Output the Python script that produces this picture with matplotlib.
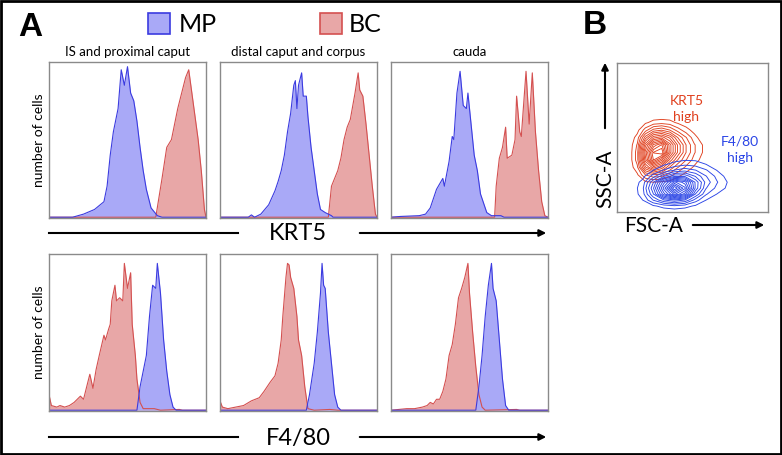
import numpy as np
import matplotlib
matplotlib.use("Agg")
import matplotlib.pyplot as plt
from matplotlib.patches import Rectangle

plt.rcParams['font.family'] = ['Lato', 'DejaVu Sans']

W, H = 782, 455

# panel titles and markers
regions = ['IS and proximal caput', 'distal caput and corpus', 'cauda']
markers = ['KRT5', 'F4/80']

# histograms: (intensity, relative count)
krt5_is_mp = [(0, 0), (0.15, 0.0), (0.22, 0.02), (0.29, 0.05), (0.35, 0.1), (0.37, 0.2), (0.39, 0.4),
              (0.41, 0.55), (0.44, 0.7), (0.46, 0.95), (0.48, 0.85), (0.50, 0.97), (0.52, 0.8),
              (0.54, 0.75), (0.56, 0.62), (0.58, 0.45), (0.60, 0.3), (0.62, 0.18), (0.65, 0.06),
              (0.69, 0.01), (0.72, 0), (1, 0)]
krt5_is_bc = [(0, 0), (0.68, 0), (0.72, 0.25), (0.75, 0.45), (0.78, 0.5), (0.80, 0.6), (0.82, 0.7),
              (0.85, 0.82), (0.87, 0.9), (0.89, 0.95), (0.91, 0.8), (0.93, 0.65), (0.95, 0.5),
              (0.97, 0.3), (0.99, 0.05), (1, 0)]
krt5_dc_mp = [(0, 0), (0.18, 0), (0.20, 0.015), (0.22, 0.0), (0.26, 0.02), (0.31, 0.08), (0.35, 0.17),
              (0.37, 0.23), (0.39, 0.3), (0.41, 0.4), (0.43, 0.55), (0.45, 0.67), (0.47, 0.85),
              (0.48, 0.88), (0.49, 0.7), (0.50, 0.85), (0.52, 0.93), (0.53, 0.78), (0.55, 0.78),
              (0.56, 0.65), (0.58, 0.45), (0.60, 0.3), (0.62, 0.15), (0.64, 0.05), (0.67, 0.03),
              (0.71, 0.01), (0.72, 0), (1, 0)]
krt5_dc_bc = [(0, 0), (0.69, 0), (0.71, 0.2), (0.73, 0.25), (0.75, 0.3), (0.77, 0.38), (0.79, 0.5),
              (0.81, 0.58), (0.83, 0.63), (0.86, 0.8), (0.88, 0.93), (0.89, 0.82), (0.91, 0.78),
              (0.93, 0.6), (0.95, 0.4), (0.97, 0.2), (0.99, 0.02), (1, 0)]
krt5_ca_mp = [(0, 0), (0.06, 0.005), (0.18, 0.01), (0.22, 0.02), (0.25, 0.06), (0.29, 0.18),
              (0.33, 0.25), (0.34, 0.2), (0.37, 0.36), (0.39, 0.52), (0.40, 0.5), (0.42, 0.8),
              (0.44, 0.94), (0.46, 0.72), (0.48, 0.7), (0.49, 0.8), (0.51, 0.6), (0.53, 0.4),
              (0.55, 0.3), (0.57, 0.15), (0.61, 0.03), (0.64, 0.01), (0.70, 0.01), (0.72, 0), (1, 0)]
krt5_ca_bc = [(0, 0), (0.66, 0), (0.67, 0.2), (0.69, 0.38), (0.71, 0.45), (0.73, 0.58), (0.74, 0.38),
              (0.77, 0.4), (0.79, 0.5), (0.80, 0.78), (0.82, 0.55), (0.83, 0.52), (0.85, 0.8),
              (0.86, 0.94), (0.88, 0.6), (0.90, 0.93), (0.92, 0.55), (0.94, 0.3), (0.96, 0.1),
              (0.98, 0.01), (1, 0)]
f480_is_mp = [(0, 0), (0.56, 0), (0.58, 0.15), (0.60, 0.25), (0.62, 0.35), (0.64, 0.6), (0.66, 0.8),
              (0.68, 0.78), (0.69, 0.94), (0.71, 0.75), (0.73, 0.45), (0.75, 0.25), (0.77, 0.1),
              (0.79, 0.02), (0.81, 0), (1, 0)]
f480_is_bc = [(0, 0.1), (0.015, 0.03), (0.05, 0.02), (0.07, 0.03), (0.10, 0.02), (0.13, 0.03),
              (0.16, 0.05), (0.20, 0.09), (0.22, 0.07), (0.24, 0.15), (0.26, 0.23), (0.28, 0.14),
              (0.30, 0.26), (0.32, 0.35), (0.35, 0.48), (0.36, 0.45), (0.38, 0.52), (0.39, 0.55),
              (0.40, 0.7), (0.42, 0.8), (0.43, 0.7), (0.45, 0.72), (0.47, 0.7), (0.48, 0.94),
              (0.50, 0.78), (0.52, 0.88), (0.53, 0.55), (0.55, 0.35), (0.56, 0.2), (0.58, 0.05),
              (0.60, 0.01), (0.67, 0.01), (0.71, 0), (0.83, 0.005), (0.85, 0), (1, 0)]
f480_dc_mp = [(0, 0), (0.55, 0), (0.57, 0.1), (0.60, 0.3), (0.62, 0.5), (0.64, 0.75), (0.65, 0.94),
              (0.66, 0.8), (0.67, 0.78), (0.69, 0.5), (0.71, 0.3), (0.73, 0.1), (0.75, 0.02),
              (0.77, 0), (1, 0)]
f480_dc_bc = [(0, 0.06), (0.015, 0.02), (0.05, 0.01), (0.10, 0.02), (0.15, 0.03), (0.20, 0.06),
              (0.25, 0.08), (0.28, 0.12), (0.32, 0.18), (0.35, 0.22), (0.37, 0.3), (0.39, 0.45),
              (0.40, 0.6), (0.42, 0.85), (0.43, 0.94), (0.44, 0.93), (0.45, 0.85), (0.47, 0.78),
              (0.49, 0.6), (0.50, 0.45), (0.52, 0.35), (0.54, 0.15), (0.56, 0.01), (0.60, 0),
              (0.70, 0.005), (0.75, 0), (1, 0)]
f480_ca_mp = [(0, 0), (0.54, 0), (0.56, 0.15), (0.58, 0.35), (0.60, 0.6), (0.62, 0.8), (0.64, 0.94),
              (0.65, 0.78), (0.67, 0.7), (0.69, 0.45), (0.71, 0.2), (0.73, 0.03), (0.75, 0), (1, 0)]
f480_ca_bc = [(0, 0), (0.05, 0.005), (0.10, 0.01), (0.15, 0.01), (0.20, 0.02), (0.23, 0.03),
              (0.25, 0.05), (0.27, 0.04), (0.29, 0.07), (0.31, 0.07), (0.33, 0.12), (0.35, 0.2),
              (0.37, 0.35), (0.39, 0.42), (0.41, 0.55), (0.43, 0.72), (0.45, 0.78), (0.47, 0.85),
              (0.49, 0.94), (0.50, 0.75), (0.52, 0.5), (0.54, 0.28), (0.56, 0.1), (0.58, 0.02),
              (0.60, 0), (0.80, 0.005), (0.82, 0), (1, 0)]

# FSC/SSC density grids (rows bottom -> top)
krt5_x = [0.08, 0.134, 0.188, 0.242, 0.296, 0.35, 0.404, 0.458, 0.512, 0.566, 0.62]
krt5_y = [0.15, 0.20, 0.25, 0.30, 0.35, 0.40, 0.45, 0.50, 0.55, 0.60, 0.65]
krt5_density = [
    [0, 0, 0, 0, 0, 0, 0, 0, 0, 0, 0],
    [0, 0, 0.3, 0.4, 0.3, 0.2, 0, 0, 0, 0, 0],
    [0, 0.3, 1.5, 2, 1.8, 1.2, 0.6, 0.2, 0, 0, 0],
    [0, 0.8, 3.5, 5, 4, 2.5, 1.5, 0.8, 0.3, 0, 0],
    [0, 1.2, 5, 8, 6.5, 4, 2.5, 1.5, 0.7, 0.2, 0],
    [0, 1.2, 5.5, 8.5, 9, 5.5, 3.5, 2, 1, 0.4, 0],
    [0, 1, 4.5, 7, 8, 5.5, 3.5, 2, 1, 0.4, 0],
    [0, 0.6, 2.8, 4.5, 5, 4, 2.5, 1.5, 0.6, 0.1, 0],
    [0, 0.2, 1.2, 2.2, 2.5, 2, 1.2, 0.6, 0.2, 0, 0],
    [0, 0, 0.3, 0.6, 0.7, 0.6, 0.3, 0.1, 0, 0, 0],
    [0, 0, 0, 0, 0, 0, 0, 0, 0, 0, 0],
]
f480_x = [0.10, 0.17, 0.24, 0.31, 0.38, 0.45, 0.52, 0.59, 0.66, 0.73, 0.80]
f480_y = [0.00, 0.04, 0.08, 0.12, 0.16, 0.20, 0.24, 0.28, 0.32, 0.36, 0.40]
f480_density = [
    [0, 0, 0, 0, 0, 0, 0, 0, 0, 0, 0],
    [0, 0, 0.3, 0.6, 0.8, 0.6, 0.3, 0, 0, 0, 0],
    [0, 0.4, 1.5, 2.5, 3, 2.5, 1.2, 0.4, 0, 0, 0],
    [0, 0.7, 2.5, 5, 7, 5.5, 2.5, 1, 0.4, 0, 0],
    [0, 0.8, 3, 6, 9, 7, 3.5, 1.5, 0.8, 0.3, 0],
    [0, 0.6, 2.5, 5, 7, 6, 3.5, 1.8, 1, 0.4, 0],
    [0, 0.2, 1.2, 2.5, 3.5, 3.5, 2.5, 1.5, 0.8, 0.2, 0],
    [0, 0, 0.4, 1, 1.5, 1.8, 1.5, 1, 0.4, 0, 0],
    [0, 0, 0, 0.3, 0.6, 0.8, 0.7, 0.4, 0.1, 0, 0],
    [0, 0, 0, 0, 0.1, 0.2, 0.2, 0.1, 0, 0, 0],
    [0, 0, 0, 0, 0, 0, 0, 0, 0, 0, 0],
]

mp_fill, mp_edge = '#a9a9f7', '#3b3be0'
bc_fill, bc_edge = '#e8a7a7', '#d45050'

fig = plt.figure(figsize=(W / 100, H / 100), dpi=100)


def px_axes(x0, y0, x1, y1):
    return fig.add_axes([x0 / W, 1 - y1 / H, (x1 - x0) / W, (y1 - y0) / H])


def draw_hist(ax, bc, mp):
    for data, fc, ec in [(bc, bc_fill, bc_edge), (mp, mp_fill, mp_edge)]:
        x = [p[0] for p in data]
        y = [p[1] for p in data]
        ax.fill_between(x, y, color=fc, lw=0)
        ax.plot(x, y, color=ec, lw=0.8)
    ax.set_xlim(0, 1)
    ax.set_ylim(-0.005, 1)
    ax.set_xticks([])
    ax.set_yticks([])
    for s in ax.spines.values():
        s.set_color('#8a8a8a')
        s.set_linewidth(1.0)


cols = [(49, 206), (220, 377), (391, 548)]
rows = [(62, 218), (254, 411)]
data = [[(krt5_is_bc, krt5_is_mp), (krt5_dc_bc, krt5_dc_mp), (krt5_ca_bc, krt5_ca_mp)],
        [(f480_is_bc, f480_is_mp), (f480_dc_bc, f480_dc_mp), (f480_ca_bc, f480_ca_mp)]]
for r, (y0, y1) in enumerate(rows):
    for c, (x0, x1) in enumerate(cols):
        ax = px_axes(x0, y0, x1, y1)
        draw_hist(ax, *data[r][c])

# panel B contour plot
axb = px_axes(617, 63, 768, 212)
levels = np.linspace(0.4, 9, 17)
axb.contour(krt5_x, krt5_y, np.array(krt5_density), levels=levels, colors='#e0401e', linewidths=0.65)
axb.contour(f480_x, f480_y, np.array(f480_density), levels=levels, colors='#2a44e6', linewidths=0.65)
axb.set_xlim(0, 1)
axb.set_ylim(0, 1)
axb.set_xticks([])
axb.set_yticks([])
for s in axb.spines.values():
    s.set_color('#8a8a8a')
    s.set_linewidth(1.0)
axb.text(0.46, 0.69, 'KRT5\nhigh', color='#e0401e', fontsize=10, ha='center', va='center',
         linespacing=1.35, transform=axb.transAxes)
axb.text(0.815, 0.42, 'F4/80\nhigh', color='#2a44e6', fontsize=10, ha='center', va='center',
         linespacing=1.45, transform=axb.transAxes)

# overlay for labels, arrows and legend
ov = fig.add_axes([0, 0, 1, 1], zorder=-1)
ov.set_xlim(0, W)
ov.set_ylim(H, 0)
ov.axis('off')
ov.add_patch(Rectangle((1, 1), W - 2, H - 2, fill=False, ec='black', lw=2))

ov.text(30, 28, 'A', fontsize=24, fontweight='bold', family='Liberation Sans', ha='center', va='center')
ov.text(595, 26, 'B', fontsize=24, fontweight='bold', family='Liberation Sans', ha='center', va='center')

ov.add_patch(Rectangle((148, 13), 22, 21, fc=mp_fill, ec=mp_edge, lw=1.2))
ov.text(179, 24, 'MP', fontsize=18, ha='left', va='center')
ov.add_patch(Rectangle((320, 13), 22, 21, fc=bc_fill, ec=bc_edge, lw=1.2))
ov.text(349, 24, 'BC', fontsize=18, ha='left', va='center')

for (x0, x1), title in zip(cols, regions):
    ov.text((x0 + x1) / 2, 52, title, fontsize=9.5, ha='center', va='center')

for (y0, y1) in rows:
    ov.text(39, (y0 + y1) / 2, 'number of cells', fontsize=10, rotation=90, ha='center', va='center')

for yy, label in zip([233, 437], markers):
    ov.plot([49, 238], [yy, yy], color='black', lw=1.5)
    ov.annotate('', xy=(549, yy), xytext=(357, yy),
                arrowprops=dict(arrowstyle='-|>', color='black', lw=1.5, mutation_scale=10))
    ov.text(298, yy + 1, label, fontsize=17, ha='center', va='center')

ov.annotate('', xy=(605, 60), xytext=(605, 131),
            arrowprops=dict(arrowstyle='-|>', color='black', lw=1.5, mutation_scale=10))
ov.text(605, 179, 'SSC-A', fontsize=15, rotation=90, ha='center', va='center')
ov.annotate('', xy=(767, 225), xytext=(690, 225),
            arrowprops=dict(arrowstyle='-|>', color='black', lw=1.5, mutation_scale=10))
ov.text(654, 226, 'FSC-A', fontsize=15, ha='center', va='center')

fig.savefig('out.png', dpi=100)
